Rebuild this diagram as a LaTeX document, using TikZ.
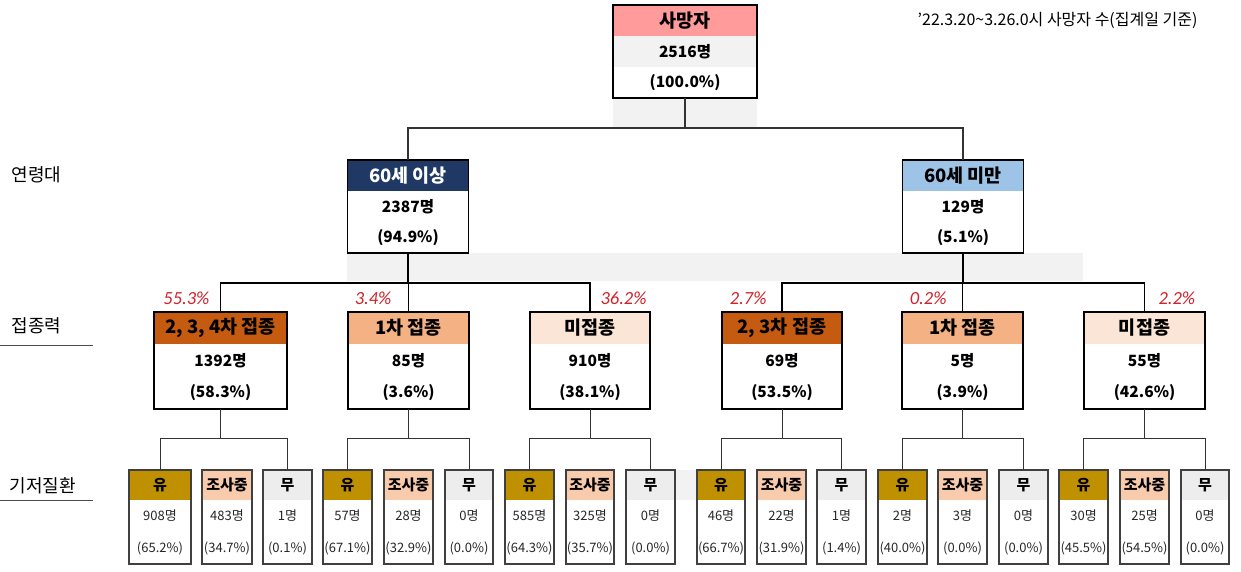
\documentclass[tikz,border=0pt]{standalone}
\usepackage{fontspec}
\setmainfont{Noto Sans CJK KR}
\newfontfamily\latinfont{Carlito}
\usetikzlibrary{positioning}
\definecolor{cpink}{HTML}{FF9B9B}
\definecolor{cgrayrow}{HTML}{F2F2F2}
\definecolor{cnavy}{HTML}{1F3864}
\definecolor{cskyblue}{HTML}{9DC3E6}
\definecolor{cdeeporange}{HTML}{C55A11}
\definecolor{clightorange}{HTML}{F4B183}
\definecolor{cpaleorange}{HTML}{FBE5D6}
\definecolor{cgold}{HTML}{BF9000}
\definecolor{cpeach}{HTML}{F8CBAD}
\definecolor{clightgray}{HTML}{EDEDED}
\definecolor{cred}{HTML}{D0222A}

\begin{document}
\begin{tikzpicture}[x=1pt, y=-1pt,
  cell/.style={anchor=north, inner sep=0pt, outer sep=0pt, minimum height=31},
  head/.style={cell, font=\fontsize{18.5}{20}\selectfont\bfseries},
  num/.style={cell, font=\fontsize{15.5}{18}\selectfont\bfseries},
  bhead/.style={cell, minimum height=30, font=\fontsize{15}{18}\selectfont\bfseries},
  bnum/.style={cell, minimum height=32, text=black!85, font=\fontsize{13}{15}\selectfont},
  frame/.style={draw=black, line width=1.3pt},
  bframe/.style={draw=black!75, line width=1.3pt},
  link/.style={draw=black!80, line width=1.3pt},
  link2/.style={draw=black, line width=1.8pt},
  link3/.style={draw=black!80, line width=1pt},
  share/.style={text=cred, font=\latinfont\itshape\fontsize{18.5}{20}\selectfont},
  side/.style={anchor=west, font=\fontsize{18}{20}\selectfont},
  rule/.style={draw=black!70, line width=1pt}]
  \useasboundingbox (0,0) rectangle (1241,571);

  % gray bands behind the links
  \fill[cgrayrow] (613,98) rectangle (757,128);
  \fill[cgrayrow] (347,253) rectangle (1083,281);
  \fill[cgrayrow] (675,470) rectangle (697,500);

  % total
  \node[head, fill=cpink, minimum width=144] (death) at (685,5) {사망자};
  \node[num, fill=cgrayrow, minimum width=144, below=0pt of death] (death-n) {2516명};
  \node[num, minimum width=144, below=0pt of death-n] (death-p) {(100.0\%)};
  \draw[frame] (death.north west) rectangle (death-p.south east);

  \node[font=\fontsize{16}{18}\selectfont, anchor=east] (note) at (1201,20)
    {'22.3.20\textasciitilde 3.26.0시 사망자 수(집계일 기준)};

  % age groups
  \node[head, fill=cnavy, text=white, minimum width=121] (old) at (408,160) {60세 이상};
  \node[num, minimum width=121, below=0pt of old] (old-n) {2387명};
  \node[num, minimum width=121, below=0pt of old-n] (old-p) {(94.9\%)};
  \draw[frame] (old.north west) rectangle (old-p.south east);

  \node[head, fill=cskyblue, minimum width=121] (young) at (963,160) {60세 미만};
  \node[num, minimum width=121, below=0pt of young] (young-n) {129명};
  \node[num, minimum width=121, below=0pt of young-n] (young-p) {(5.1\%)};
  \draw[frame] (young.north west) rectangle (young-p.south east);

  \draw[link] (death-p.south) -- ++(0,30) -| (old.north);
  \draw[link] (death-p.south) ++(0,30) -| (young.north);

  % vaccination
  \foreach \nm/\x/\w/\col/\txt/\cnt/\pct in {
    v1/220.5/133/cdeeporange/{2, 3, 4차 접종}/1392/58.3,
    v2/408.5/121/clightorange/{1차 접종}/85/3.6,
    v3/590/120/cpaleorange/미접종/910/38.1,
    v4/782/120/cdeeporange/{2, 3차 접종}/69/53.5,
    v5/962.5/121/clightorange/{1차 접종}/5/3.9,
    v6/1144.5/121/cpaleorange/미접종/55/42.6}{
    \node[head, fill=\col, minimum width=\w, minimum height=32] (\nm) at (\x,312) {\txt};
    \node[num, minimum width=\w, minimum height=32.5, below=0pt of \nm] (\nm-n) {\cnt{}명};
    \node[num, minimum width=\w, minimum height=32.5, below=0pt of \nm-n] (\nm-p) {(\pct\%)};
    \draw[frame] (\nm.north west) rectangle (\nm-p.south east);
  }

  \draw[link2] (old-p.south) -- ++(0,30) -| (v1.north);
  \draw[link2] (old-p.south) -- ++(0,30) -| (v2.north);
  \draw[link2] (old-p.south) ++(0,30) -| (v3.north);
  \draw[link2] (young-p.south) -- ++(0,30) -| (v6.north);
  \draw[link2] (young-p.south) -- ++(0,30) -| (v5.north);
  \draw[link2] (young-p.south) ++(0,30) -| (v4.north);

  \node[share, anchor=east] (s1) at (213,298) {55.3\%};
  \node[share, anchor=east] (s2) at (395,298) {3.4\%};
  \node[share, anchor=west] (s3) at (597,298) {36.2\%};
  \node[share, anchor=east] (s4) at (770,298) {2.7\%};
  \node[share, anchor=east] (s5) at (950,298) {0.2\%};
  \node[share, anchor=west] (s6) at (1155,298) {2.2\%};

  % underlying disease
  \foreach \nm/\x/\w/\col/\lbl/\cnt/\pct in {
    b1y/160/62/cgold/유/908/65.2,
    b1j/227/50/cpeach/조사중/483/34.7,
    b1m/287.5/49/clightgray/무/1/0.1,
    b2y/347.5/49/cgold/유/57/67.1,
    b2j/408.5/49/cpeach/조사중/28/32.9,
    b2m/469/48/clightgray/무/0/0.0,
    b3y/529.5/49/cgold/유/585/64.3,
    b3j/590/48/cpeach/조사중/325/35.7,
    b3m/650.5/49/clightgray/무/0/0.0,
    b4y/721/48/cgold/유/46/66.7,
    b4j/781.5/49/cpeach/조사중/22/31.9,
    b4m/841.5/49/clightgray/무/1/1.4,
    b5y/902.5/49/cgold/유/2/40.0,
    b5j/962.5/49/cpeach/조사중/3/0.0,
    b5m/1023.5/49/clightgray/무/0/0.0,
    b6y/1083.5/49/cgold/유/30/45.5,
    b6j/1144.5/49/cpeach/조사중/25/54.5,
    b6m/1205/48/clightgray/무/0/0.0}{
    \node[bhead, fill=\col, minimum width=\w] (\nm) at (\x,470) {\lbl};
    \node[bnum, minimum width=\w, below=0pt of \nm] (\nm-n) {\cnt{}명};
    \node[bnum, minimum width=\w, below=0pt of \nm-n] (\nm-p) {(\pct\%)};
    \draw[bframe] (\nm.north west) rectangle (\nm-p.south east);
  }

  \foreach \pa/\a/\b in {v1/b1y/b1m, v2/b2y/b2m, v3/b3y/b3m, v4/b4y/b4m, v5/b5y/b5m, v6/b6y/b6m}{
    \draw[link3] (\pa-p.south) -- ++(0,29) -| (\a.north);
    \draw[link3] (\pa-p.south) ++(0,29) -| (\b.north);
  }

  % row labels
  \node[side] (age) at (8,175) {연령대};
  \node[side] (vax) at (8,326) {접종력};
  \draw[rule] (0,345) -- (93,345);
  \node[side] (cond) at (6,486) {기저질환};
  \draw[rule] (0,500) -- (93,500);
\end{tikzpicture}
\end{document}
